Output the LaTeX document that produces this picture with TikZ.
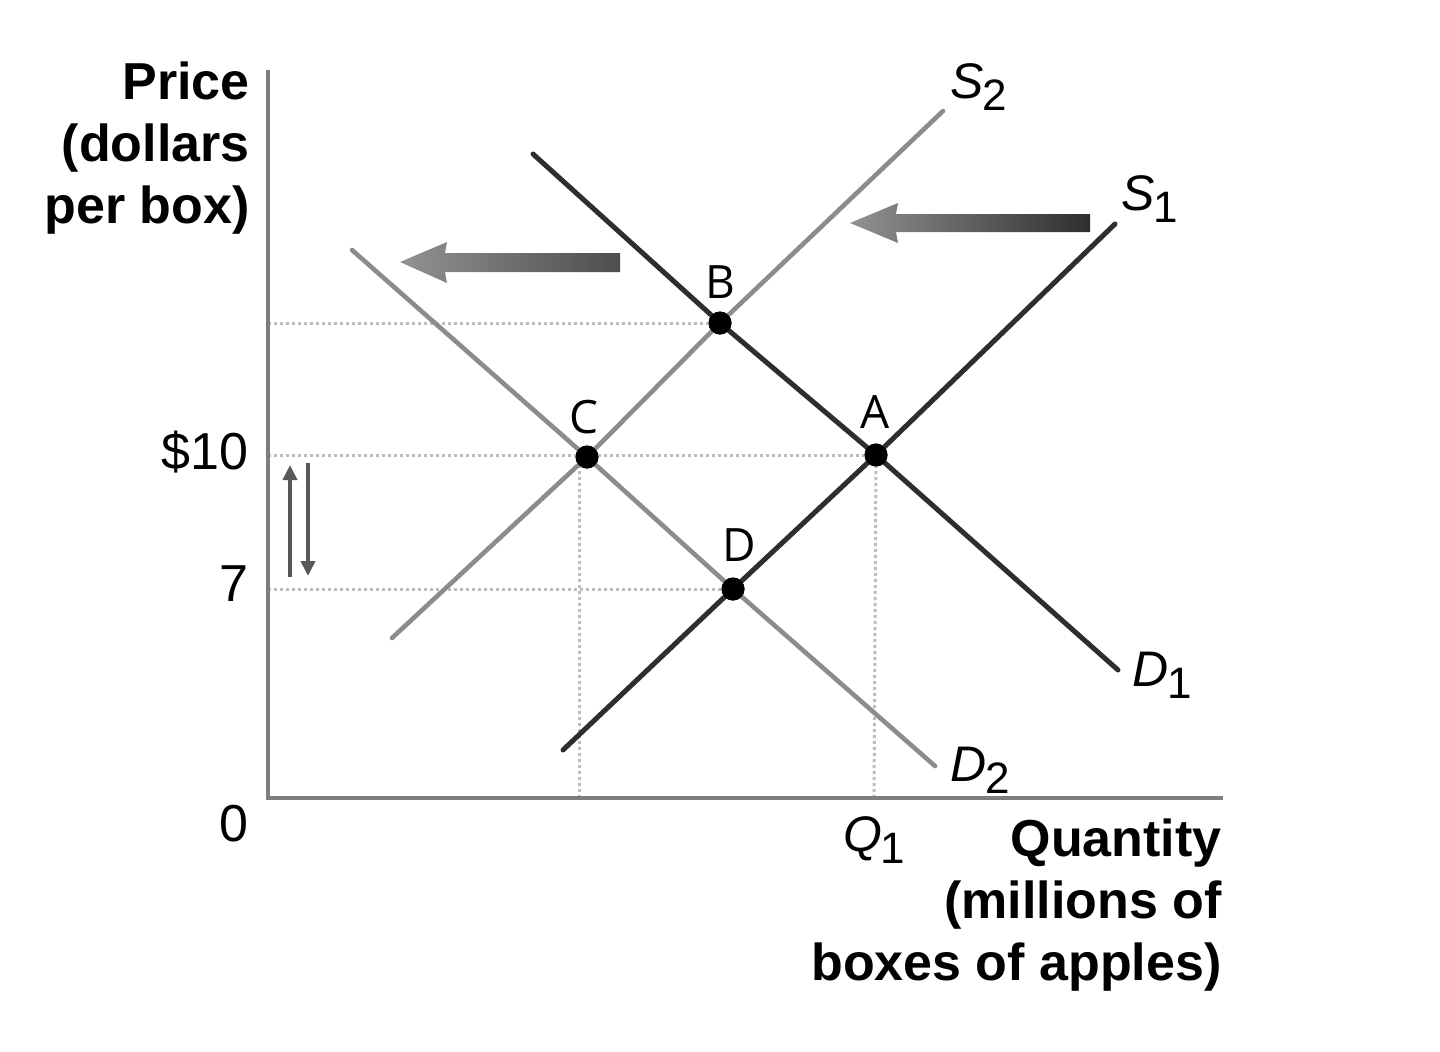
\documentclass[tikz,border=0pt]{standalone}
\usepackage{fontspec}
\setmainfont{Liberation Sans}
\newfontfamily\ptfont{Open Sans}
\usetikzlibrary{arrows.meta}
\definecolor{darkline}{HTML}{2E2E2E}
\definecolor{lightline}{HTML}{8C8C8C}
\definecolor{dotline}{HTML}{BDBDBD}
\newcommand{\curvelab}[2]{{\itshape #1}\kern-0.03em\raisebox{-0.24em}{\fontsize{22}{22}\selectfont #2}}
\begin{document}
\begin{tikzpicture}[x=0.5pt,y=-0.5pt,
  axisline/.style={draw=lightline!90!black,line width=1.6pt},
  guide/.style={draw=dotline,line width=1.5pt,dash pattern=on 1.6pt off 1.4pt},
  supdark/.style={draw=darkline,line width=2.5pt,line cap=round},
  suplight/.style={draw=lightline,line width=2.3pt,line cap=round},
  eqpt/.style={circle,fill=black,inner sep=0pt,minimum size=11.5pt},
  ptlab/.style={font=\ptfont\fontsize{23}{23}\selectfont,inner sep=0pt},
  axlab/.style={font=\bfseries\fontsize{26}{31}\selectfont,inner sep=0pt,align=right},
  ticklab/.style={font=\fontsize{26}{26}\selectfont,inner sep=0pt,anchor=east},
  clab/.style={font=\fontsize{25}{25}\selectfont,inner sep=0pt,anchor=base west},
  smallarrow/.style={draw=darkline!80,line width=1.8pt,-{Triangle[length=7.5pt,width=7pt]}}
]
\useasboundingbox (0,0) rectangle (1440,1051);

% axes
\coordinate (ytop) at (268,70);
\coordinate (orig) at (268,798);
\coordinate (xend) at (1223,798);

% guide lines
\coordinate (gB) at (268,323);
\coordinate (gA) at (268,455);
\coordinate (gD) at (268,589);
\coordinate (gCx) at (579,798);
\coordinate (gCt) at (579,459);
\coordinate (gAx) at (874,798);

% equilibrium points
\node[eqpt] (B) at (720,323) {};
\node[eqpt] (C) at (587,457) {};
\node[eqpt] (A) at (876,455) {};
\node[eqpt] (D) at (733,589) {};

\draw[guide] (gB) -- (B.center);
\draw[guide] (gA) -- (A.center);
\draw[guide] (gD) -- (D.center);
\draw[guide] (gCx) -- (gCt);
\draw[guide] (gAx) -- (A.center);

% curve end points
\coordinate (s1a) at (563,750);
\coordinate (s1b) at (1115,224);
\coordinate (s2a) at (392,638);
\coordinate (s2b) at (943,111);
\coordinate (d1a) at (533,154);
\coordinate (d1b) at (1118,670);
\coordinate (d2a) at (352,250);
\coordinate (d2b) at (935,766);

\draw[suplight,line join=round] (s2a) -- (C.center) -- (B.center) -- (s2b);
\draw[suplight,line join=round] (d2a) -- (C.center) -- (D.center) -- (d2b);
\draw[supdark,line join=round] (s1a) -- (D.center) -- (A.center) -- (s1b);
\draw[supdark,line join=round] (d1a) -- (B.center) -- (A.center) -- (d1b);

% redraw points on top
\node[eqpt] at (B.center) {};
\node[eqpt] at (C.center) {};
\node[eqpt] at (A.center) {};
\node[eqpt] at (D.center) {};

\draw[axisline] (ytop) -- (orig) -- (xend);

% point labels
\node[ptlab] (labB) at (720,282) {B};
\node[ptlab] (labC) at (584,417) {C};
\node[ptlab] (labA) at (875,412) {A};
\node[ptlab] (labD) at (739,545) {D};

% curve labels
\node[clab] (labS2) at (950,98) {\curvelab{S}{2}};
\node[clab] (labS1) at (1121,210) {\curvelab{S}{1}};
\node[clab] (labD1) at (1132,686) {\curvelab{D}{1}};
\node[clab] (labD2) at (950,781) {\curvelab{D}{2}};

% shift arrows
\shade[left color=lightline!95,right color=darkline] 
  (850,223) -- (898,203) -- (896,214) -- (1090,214) -- (1090,232) -- (896,232) -- (898,243) -- cycle;
\shade[left color=lightline!95,right color=darkline!85] 
  (400,262) -- (447,242) -- (445,253) -- (620,253) -- (620,272) -- (445,272) -- (447,283) -- cycle;

% small arrows
\coordinate (ua) at (290,577);
\coordinate (ub) at (290,465);
\coordinate (da) at (308,463);
\coordinate (db) at (308,576);
\draw[smallarrow] (ua) -- (ub);
\draw[smallarrow] (da) -- (db);

% tick labels
\node[ticklab] (t10) at (249,452) {\$10};
\node[ticklab] (t7) at (249,584) {7};
\node[ticklab] (t0) at (249,824) {0};
\node[font=\fontsize{25}{25}\selectfont,inner sep=0pt,anchor=base] (q1) at (874,851) {\curvelab{Q}{1}};

% axis titles
\node[axlab,anchor=north east] (ytitle) at (250,61) {Price\\(dollars\\per box)};
\node[axlab,anchor=north east] (xtitle) at (1222,818) {Quantity\\(millions of\\boxes of apples)};
\end{tikzpicture}
\end{document}
